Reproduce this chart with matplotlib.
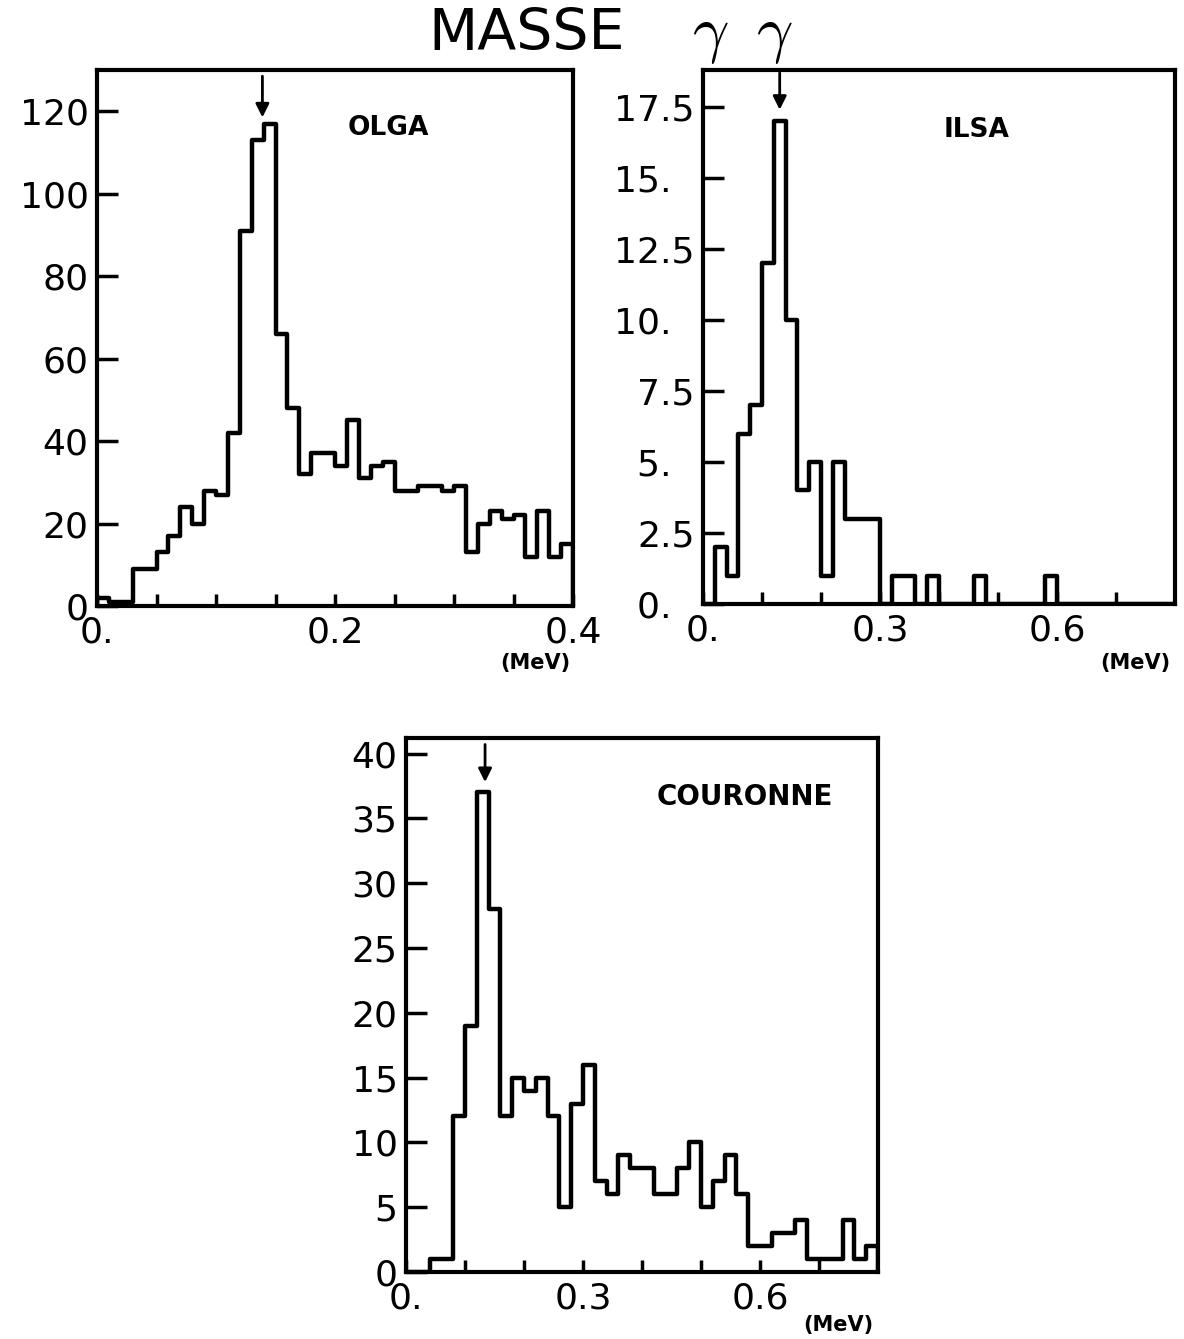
import matplotlib
matplotlib.use('Agg')
import matplotlib.pyplot as plt
import numpy as np

W, H = 1184, 1339
DPI = 100

# ---------------- data ----------------
olga_edges = np.linspace(0.0, 0.4, 41)
olga_counts = [2, 1, 1, 9, 9, 13, 17, 24, 20, 28,
               27, 42, 91, 113, 117, 66, 48, 32, 37, 37,
               34, 45, 31, 34, 35, 28, 28, 29, 29, 28,
               29, 13, 20, 23, 21, 22, 12, 23, 12, 15]

ilsa_edges = np.linspace(0.0, 0.8, 41)
ilsa_counts = [0, 2, 1, 6, 7, 12, 17, 10, 4, 5,
               1, 5, 3, 3, 3, 0, 1, 1, 0, 1,
               0, 0, 0, 1, 0, 0, 0, 0, 0, 1,
               0, 0, 0, 0, 0, 0, 0, 0, 0, 0]

cour_edges = np.linspace(0.0, 0.8, 41)
cour_counts = [0, 0, 1, 1, 12, 19, 37, 28, 12, 15,
               14, 15, 12, 5, 13, 16, 7, 6, 9, 8,
               8, 6, 6, 8, 10, 5, 7, 9, 6, 2,
               2, 3, 3, 4, 1, 1, 1, 4, 1, 2]

olga_xticks = [0.0, 0.2, 0.4]
olga_xticklabels = ["0.", "0.2", "0.4"]
olga_yticks = [0, 20, 40, 60, 80, 100, 120]
olga_yticklabels = ["0", "20", "40", "60", "80", "100", "120"]

ilsa_xticks = [0.0, 0.3, 0.6]
ilsa_xticklabels = ["0.", "0.3", "0.6"]
ilsa_yticks = [0, 2.5, 5, 7.5, 10, 12.5, 15, 17.5]
ilsa_yticklabels = ["0.\u2007", "2.5", "5.\u2007", "7.5", "10.\u2007", "12.5", "15.\u2007", "17.5"]

cour_xticks = [0.0, 0.3, 0.6]
cour_xticklabels = ["0.", "0.3", "0.6"]
cour_yticks = [0, 5, 10, 15, 20, 25, 30, 35, 40]
cour_yticklabels = ["0", "5", "10", "15", "20", "25", "30", "35", "40"]

pion_arrows = {"OLGA": (0.139, 118.5, 128.5),
               "ILSA": (0.130, 17.4, 18.7),
               "COURONNE": (0.134, 37.8, 40.7)}

# ---------------- figure ----------------
plt.rcParams['font.family'] = ['DejaVu Sans']
plt.rcParams['mathtext.fontset'] = 'cm'

fig = plt.figure(figsize=(W / DPI, H / DPI), dpi=DPI)
fig.patch.set_facecolor('white')


def rect(l, t, r, b):
    return [l / W, 1 - b / H, (r - l) / W, (b - t) / H]


def px(x, y):
    return x / W, 1 - y / H


def style(ax, xlim, ylim, xt, xtl, xminor, yt, ytl):
    ax.set_xlim(*xlim)
    ax.set_ylim(*ylim)
    for s in ax.spines.values():
        s.set_linewidth(3)
    ax.set_xticks(xt)
    ax.set_xticklabels(xtl)
    ax.set_xticks(xminor, minor=True)
    ax.set_yticks(yt)
    ax.set_yticklabels(ytl)
    ax.tick_params(which='both', direction='in', width=2.5, labelsize=26,
                   top=False, right=False)
    ax.tick_params(axis='y', length=15, pad=6)
    ax.tick_params(axis='x', which='both', length=9, pad=7)


def hist(ax, counts, edges):
    p = ax.stairs(counts, edges, color='black', linewidth=3.2, baseline=0)
    p.set_joinstyle('round')


def arrow(ax, key):
    x, ytip, ytop = pion_arrows[key]
    ax.annotate('', xy=(x, ytip), xytext=(x, ytop),
                arrowprops=dict(arrowstyle='-|>', color='black', lw=2,
                                mutation_scale=20, shrinkA=0, shrinkB=0))


ax1 = fig.add_axes(rect(97, 70, 573, 606))
hist(ax1, olga_counts, olga_edges)
style(ax1, (0, 0.4), (0, 130), olga_xticks, olga_xticklabels,
      np.arange(0.05, 0.4, 0.05), olga_yticks, olga_yticklabels)
arrow(ax1, "OLGA")

ax2 = fig.add_axes(rect(703, 70, 1175, 604))
hist(ax2, ilsa_counts, ilsa_edges)
style(ax2, (0, 0.8), (0, 18.8), ilsa_xticks, ilsa_xticklabels,
      [0.1, 0.2, 0.4, 0.5, 0.7], ilsa_yticks, ilsa_yticklabels)
for lab in ax2.get_yticklabels():
    lab.set_horizontalalignment('right')
arrow(ax2, "ILSA")

ax3 = fig.add_axes(rect(406, 738, 878, 1272))
hist(ax3, cour_counts, cour_edges)
style(ax3, (0, 0.8), (0, 41.2), cour_xticks, cour_xticklabels,
      [0.1, 0.2, 0.4, 0.5, 0.7], cour_yticks, cour_yticklabels)
arrow(ax3, "COURONNE")

# panel names
fig.text(*px(388, 128), "OLGA", fontsize=19, fontweight='bold', ha='center', va='center')
fig.text(*px(977, 130), "ILSA", fontsize=19, fontweight='bold', ha='center', va='center')
fig.text(*px(745, 797), "COURONNE", fontsize=20, fontweight='bold', ha='center', va='center')

# units
fig.text(*px(535, 663), "(MeV)", fontsize=15, fontweight='bold', ha='center', va='center')
fig.text(*px(1135, 663), "(MeV)", fontsize=15, fontweight='bold', ha='center', va='center')
fig.text(*px(838, 1325), "(MeV)", fontsize=15, fontweight='bold', ha='center', va='center')

# title
fig.text(*px(527, 50), "MASSE", fontsize=41, ha='center', va='baseline')
fig.text(*px(692, 50), r"$\gamma\;\;\gamma$", fontsize=46, ha='left', va='baseline')

fig.savefig('out.png', dpi=DPI, facecolor='white')
